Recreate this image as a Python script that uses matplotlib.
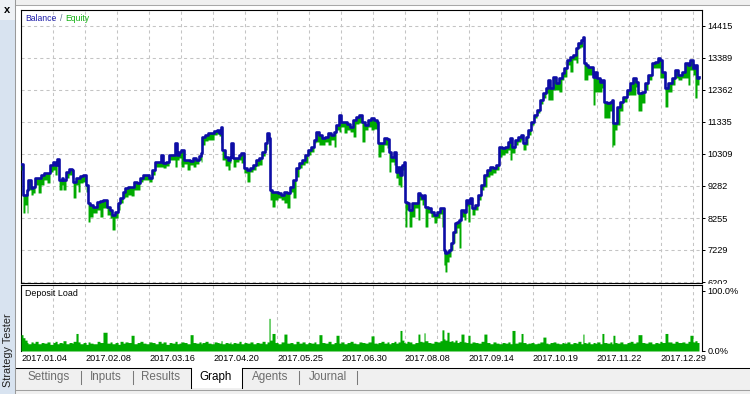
import numpy as np
import matplotlib
matplotlib.use("Agg")
import matplotlib.pyplot as plt
from matplotlib.patches import Rectangle
from matplotlib.lines import Line2D
from matplotlib.transforms import Bbox, TransformedBbox

plt.rcParams['font.family'] = ['Liberation Sans', 'DejaVu Sans']

# time axis: days since 2017.01.04
days = [
    0, 1.1, 2.2, 3.4, 3.9, 5.6, 6.8, 7.9, 9.6, 11.3,
    12.9, 14.6, 16.3, 18.0, 19.1, 20.3, 21.4, 23.1, 23.6, 25.3,
    27.0, 28.7, 29.3, 30.9, 32.1, 33.2, 34.9, 36.6, 37.7, 38.8,
    40.5, 42.8, 44.4, 46.1, 48.4, 50.1, 51.2, 52.9, 54.6, 55.7,
    57.4, 58.5, 60.2, 61.9, 63.6, 65.3, 66.9, 68.6, 70.3, 72.0,
    73.7, 75.4, 77.1, 78.8, 79.9, 81.6, 83.3, 84.9, 86.6, 87.8,
    88.9, 90.0, 91.7, 93.4, 95.1, 96.8, 98.4, 100.1, 101.3, 101.8,
    103.5, 105.2, 106.9, 108.6, 110.3, 111.4, 112.5, 113.1, 114.8, 116.4,
    117.6, 118.1, 119.3, 120.9, 122.6, 123.8, 125.4, 127.1, 128.8, 130.5,
    132.2, 133.9, 135.6, 137.3, 138.4, 139.5, 140.1, 141.2, 142.9, 144.6,
    146.3, 147.9, 149.6, 151.3, 153.0, 154.7, 156.4, 158.1, 159.8, 161.4,
    163.1, 164.8, 165.9, 167.6, 169.3, 171.0, 172.7, 174.4, 176.1, 177.2,
    178.9, 180.0, 181.7, 183.4, 185.1, 186.8, 188.4, 190.1, 191.8, 193.5,
    195.2, 196.9, 198.6, 200.3, 200.8, 202.5, 204.2, 205.9, 207.0, 208.1,
    209.8, 210.9, 212.1, 213.2, 214.3, 215.4, 216.0, 217.1, 218.3, 219.9,
    221.6, 223.3, 224.4, 225.6, 226.7, 227.3, 228.9, 230.6, 232.3, 234.0,
    235.7, 236.8, 237.9, 238.5, 239.6, 240.8, 241.9, 243.0, 244.1, 245.3,
    246.4, 247.5, 249.2, 250.3, 251.4, 252.6, 253.7, 255.4, 257.1, 258.8,
    260.4, 262.1, 263.8, 265.5, 267.2, 268.9, 270.6, 272.3, 273.9, 275.1,
    276.2, 277.9, 279.6, 281.3, 282.4, 284.1, 285.2, 286.9, 288.6, 290.3,
    291.9, 293.6, 295.3, 296.4, 297.6, 299.3, 300.9, 302.6, 304.3, 305.4,
    307.1, 308.8, 310.5, 312.2, 313.3, 315.0, 316.1, 316.7, 317.8, 318.9,
    320.1, 321.8, 322.9, 324.0, 325.7, 326.8, 327.9, 329.6, 331.3, 332.4,
    333.0, 334.1, 335.3, 336.9, 338.6, 340.9, 342.6, 344.3, 345.9, 347.1,
    349.3, 351.0, 352.7, 354.9, 356.6, 358.3, 359.4, 360.6, 362.3, 363.9,
    366.2, 367.9, 369.6, 371.8, 373.5, 375.2, 376.3, 378.0, 379.1, 380.3,
    381.4,
]

balance = [
    10000, 8994, 8994, 9154, 9475, 9218, 9250, 9538, 9538, 9635,
    9699, 9699, 9956, 10052, 9956, 10148, 9475, 9538, 9475, 9731,
    9827, 9795, 9411, 9538, 9538, 9603, 9635, 9315, 8737, 8673,
    8608, 8769, 8801, 8833, 8608, 8512, 8352, 8448, 8737, 8897,
    9090, 9218, 9250, 9250, 9411, 9379, 9538, 9635, 9635, 9538,
    9795, 10052, 10052, 10277, 10020, 10052, 10277, 10277, 10662, 10277,
    10373, 10437, 10116, 10116, 10084, 10180, 10116, 10244, 10341, 10854,
    10918, 10982, 10982, 11047, 11079, 10982, 11175, 10437, 10212, 10116,
    10212, 10662, 10180, 10180, 10277, 10341, 9859, 9795, 9859, 9956,
    10116, 10180, 10373, 10662, 10982, 10822, 9154, 9090, 9090, 9058,
    8994, 9090, 9058, 9250, 9475, 9859, 10020, 10116, 10277, 10437,
    10533, 10758, 11015, 10918, 10822, 10854, 10982, 10918, 11015, 11239,
    11560, 11335, 11335, 11271, 11175, 11399, 11496, 11560, 11335, 11239,
    11399, 11464, 11399, 11335, 10662, 10662, 10822, 10790, 10373, 10212,
    10373, 9731, 9891, 9635, 9956, 10052, 8769, 8737, 8512, 8737,
    8737, 9058, 8994, 8897, 8994, 8608, 8576, 8448, 8352, 8448,
    8576, 8576, 7229, 7133, 7165, 7229, 7454, 7807, 8095, 8127,
    8191, 8512, 8448, 8833, 8737, 8897, 8576, 8673, 8994, 9315,
    9635, 9795, 9891, 9859, 9956, 10533, 10501, 10533, 10694, 10822,
    10533, 10758, 10854, 10918, 10662, 10854, 11079, 11335, 11560, 11720,
    12041, 12266, 12426, 12683, 12426, 12779, 12586, 12747, 12907, 13068,
    13324, 13420, 13485, 13709, 13870, 13966, 14062, 13228, 13164, 13100,
    13100, 12779, 12939, 12747, 12618, 12683, 11977, 11945, 11977, 12041,
    11303, 11303, 11817, 11977, 12137, 12362, 12586, 12747, 12618, 12266,
    12298, 12586, 12843, 13228, 13260, 13388, 13324, 12939, 12426, 12586,
    12747, 13003, 12843, 12939, 13228, 13164, 13324, 13068, 13164, 12747,
    12779,
]

equity = [
    9795, 8416, 8673, 8416, 9154, 8994, 9058, 9315, 9058, 9315,
    9475, 9379, 9731, 9795, 9635, 9924, 9154, 9315, 9154, 9538,
    9635, 9538, 8897, 9315, 9090, 9379, 9411, 9090, 8127, 8287,
    8416, 8512, 8287, 8576, 8352, 8255, 7871, 8255, 8512, 8737,
    8897, 8929, 8994, 8962, 9154, 9154, 9411, 9475, 9475, 9411,
    9635, 9891, 9891, 9891, 9859, 9924, 10116, 10116, 9891, 10116,
    10180, 9891, 9988, 9795, 9956, 9891, 9988, 10116, 10052, 10597,
    10726, 10758, 10758, 10918, 10951, 10886, 10662, 10116, 9924, 9795,
    10020, 10533, 9891, 10052, 10116, 10020, 9699, 9411, 9731, 9795,
    9924, 9956, 10244, 10437, 10726, 10533, 8833, 8608, 8833, 8897,
    8833, 8737, 8576, 9090, 8897, 9571, 9859, 9956, 10020, 10277,
    10373, 10662, 10694, 10597, 10597, 10694, 10597, 10758, 10533, 11079,
    11015, 11175, 10982, 11079, 11015, 10854, 11271, 11303, 10694, 11079,
    11175, 11079, 11111, 11079, 10212, 10373, 10597, 10501, 9731, 10052,
    9956, 9538, 9315, 9250, 9795, 9475, 7966, 8512, 7966, 8287,
    8576, 8191, 8833, 8673, 8833, 7966, 8416, 8287, 8095, 8255,
    8384, 7966, 6748, 6524, 6844, 7004, 7229, 7454, 7775, 7934,
    7293, 8287, 8191, 8641, 8127, 8705, 8352, 8512, 8833, 9154,
    9250, 9571, 9635, 9699, 9795, 10212, 10277, 10341, 10437, 10116,
    10341, 10597, 10694, 10758, 10437, 10597, 10918, 11239, 11464, 11624,
    11913, 12105, 12266, 12041, 12041, 12362, 12362, 12298, 12683, 12779,
    13164, 12939, 13324, 13228, 13709, 13741, 13966, 12683, 12683, 12843,
    12843, 11881, 12298, 12298, 12298, 12426, 11464, 11464, 11688, 10533,
    10597, 11079, 11239, 11688, 11977, 12201, 12201, 12201, 12458, 11688,
    11945, 12362, 12683, 13068, 13068, 13068, 12747, 12747, 11817, 12298,
    12522, 12747, 12683, 12747, 12747, 12522, 13003, 12843, 12105, 12522,
    12618,
]

# deposit load, percent
deposit_load = [
    27, 22, 18, 14, 12, 15, 13, 16, 12, 14,
    13, 15, 11, 14, 16, 12, 14, 13, 17, 12,
    14, 13, 16, 29, 15, 12, 14, 11, 15, 13,
    12, 16, 14, 31, 13, 15, 12, 14, 11, 16,
    13, 15, 14, 26, 12, 14, 16, 13, 12, 15,
    14, 12, 16, 13, 15, 11, 14, 13, 16, 12,
    13, 15, 14, 12, 27, 14, 13, 15, 12, 14,
    16, 13, 12, 15, 14, 13, 17, 12, 14, 13,
    15, 12, 14, 13, 16, 12, 14, 13, 15, 12,
    14, 13, 16, 12, 15, 54, 18, 29, 14, 12,
    15, 28, 13, 14, 12, 16, 13, 15, 12, 14,
    13, 15, 12, 27, 14, 13, 16, 12, 14, 26,
    13, 15, 12, 14, 16, 13, 12, 15, 14, 13,
    15, 25, 13, 12, 14, 16, 13, 15, 12, 14,
    16, 13, 15, 34, 18, 14, 13, 16, 15, 12,
    14, 28, 16, 15, 30, 17, 14, 13, 16, 15,
    17, 35, 20, 18, 31, 16, 17, 15, 18, 14,
    16, 28, 15, 14, 26, 13, 15, 14, 13, 16,
    28, 14, 12, 15, 13, 12, 14, 13, 15, 12,
    34, 13, 15, 29, 14, 12, 13, 14, 12, 13,
    15, 23, 13, 12, 14, 15, 13, 12, 14, 13,
    15, 12, 14, 13, 16, 12, 28, 14, 13, 15,
    12, 14, 13, 15, 12, 29, 14, 13, 15, 12,
    26, 14, 13, 15, 12, 14, 16, 13, 15, 27,
    14, 13, 15, 12, 14, 13, 16, 14, 29, 15,
    13, 16, 14, 15, 13, 16, 26, 15, 17, 14,
    6,
]

date_labels = ["2017.01.04", "2017.02.08", "2017.03.16", "2017.04.20", "2017.05.25",
               "2017.06.30", "2017.08.08", "2017.09.14", "2017.10.19", "2017.11.22",
               "2017.12.29"]
balance_ticks = [6202, 7229, 8255, 9282, 10309, 11335, 12362, 13389, 14415]
tab_names = ["Settings", "Inputs", "Results", "Graph", "Agents", "Journal"]
tab_centers = [49, 106, 161, 216, 270, 328]

BLUE = '#0d0da6'
GREEN = '#00aa00'
GRID = '#c4c4c4'

W, H = 750, 394


def fx(px):
    return px / W


def fy(py):
    return 1 - py / H


def rect(x0, y0, x1, y1, color, **kw):
    fig.add_artist(Rectangle((fx(x0), fy(y1)), (x1 - x0) / W, (y1 - y0) / H,
                             transform=fig.transFigure, facecolor=color, **kw))


def hline(x0, x1, y, color, lw=0.75):
    fig.add_artist(Line2D([fx(x0), fx(x1)], [fy(y), fy(y)], transform=fig.transFigure,
                          color=color, lw=lw))


def vline(x, y0, y1, color, lw=0.75):
    fig.add_artist(Line2D([fx(x), fx(x)], [fy(y0), fy(y1)], transform=fig.transFigure,
                          color=color, lw=lw))


fig = plt.figure(figsize=(7.5, 3.94), dpi=100, facecolor='white')

ax = fig.add_axes([fx(20.5), fy(282.5), (702 - 20.5) / W, (282.5 - 10) / H])
ax2 = fig.add_axes([fx(20.5), fy(351), (702 - 20.5) / W, (351 - 284.5) / H])

x_major = np.arange(0, 384, 36)
x_minor = np.arange(18, 384, 36)

# balance / equity panel: equity drawdown hangs under the balance line
ax.fill_between(days, equity, balance, step='post', color=GREEN, lw=0, zorder=3)
ax.plot(days, balance, drawstyle='steps-post', color=BLUE, lw=1.9, zorder=4)
ax.set_xlim(-0.3, 383.1)
ax.set_ylim(6186, 14928)
ax.set_xticks(x_major)
ax.set_xticks(x_minor, minor=True)
ax.set_yticks(balance_ticks)
ax.set_yticklabels([str(v) for v in balance_ticks])
ax.yaxis.tick_right()
ax.tick_params(axis='x', which='both', length=0, labelbottom=False)
ax.tick_params(axis='y', length=2.2, width=0.72, pad=1.5, labelsize=6.6, colors='black')
ax.grid(True, which='both', color=GRID, linestyle=(0, (3, 3)), lw=0.75)
for s in ax.spines.values():
    s.set_linewidth(0.8)
    s.set_color('black')

# deposit load panel
ax2.fill_between(days, deposit_load, step='post', color=GREEN, lw=0, zorder=3)
ax2.set_xlim(-0.3, 383.1)
ax2.set_ylim(0, 110)
ax2.set_xticks(x_major)
ax2.set_xticks(x_minor, minor=True)
ax2.set_xticklabels(date_labels, ha='left')
ax2.set_yticks([0, 100])
ax2.set_yticklabels(['0.0%', '100.0%'])
ax2.yaxis.tick_right()
ax2.tick_params(axis='x', which='both', length=0, pad=2.5, labelsize=6.6, colors='black')
ax2.tick_params(axis='y', length=2.2, width=0.72, pad=1.5, labelsize=6.6, colors='black')
ax2.grid(True, axis='x', which='both', color=GRID, linestyle=(0, (3, 3)), lw=0.75)
for s in ax2.spines.values():
    s.set_linewidth(0.8)
    s.set_color('black')
ax2.spines['bottom'].set_visible(False)

# lowest balance label is cut by the deposit panel
clip = TransformedBbox(Bbox([[0, fy(283.5)], [1, 1]]), fig.transFigure)
for t in ax.yaxis.get_major_ticks():
    t.label2.set_clip_on(True)
    t.label2.set_clip_box(clip)

# panel captions
fig.text(fx(25), fy(18.5), 'Balance', color='#1c1ca8', fontsize=6.2, va='center')
fig.text(fx(59.5), fy(18.5), '/', color='#5a7090', fontsize=6.2, va='center')
fig.text(fx(65.5), fy(18.5), 'Equity', color='#10b010', fontsize=6.2, va='center')
fig.text(fx(25), fy(293), 'Deposit Load', color='black', fontsize=6.4, va='center')

# window chrome: top strip, left side bar, tabs
rect(15, 0, 750, 5, '#f0f0f0', lw=0)
hline(15, 750, 5, '#a8a8a8')
rect(0, 0, 14.5, 394, '#d8e3f0', lw=0)
rect(0, 0, 14.5, 20, '#eef1f5', lw=0)
vline(15, 0, 394, '#9a9a9a')
fig.text(fx(7), fy(10), 'x', fontsize=8, fontweight='bold', ha='center', va='center')
fig.text(fx(8.5), fy(350), 'Strategy Tester', fontsize=7.8, rotation=90,
         ha='center', va='center', color='#202020')

rect(15.5, 367.5, 750, 394, '#f0f0f0', lw=0)
hline(15.5, 191, 367.5, 'black')
hline(242, 750, 367.5, 'black')
rect(191, 367.5, 242, 388, 'white', lw=0)
vline(191, 367.5, 388, 'black')
vline(242, 367.5, 388, 'black')
hline(15.5, 750, 390, '#a0a0a0')
for sx in [81, 133, 299, 357]:
    vline(sx, 371, 384, '#7a7a7a')
for name, cx in zip(tab_names, tab_centers):
    fig.text(fx(cx), fy(377), name, fontsize=8.4, ha='center', va='center',
             color='black' if name == 'Graph' else '#6d6d6d')

fig.savefig('out.png', dpi=100, facecolor=fig.get_facecolor())
